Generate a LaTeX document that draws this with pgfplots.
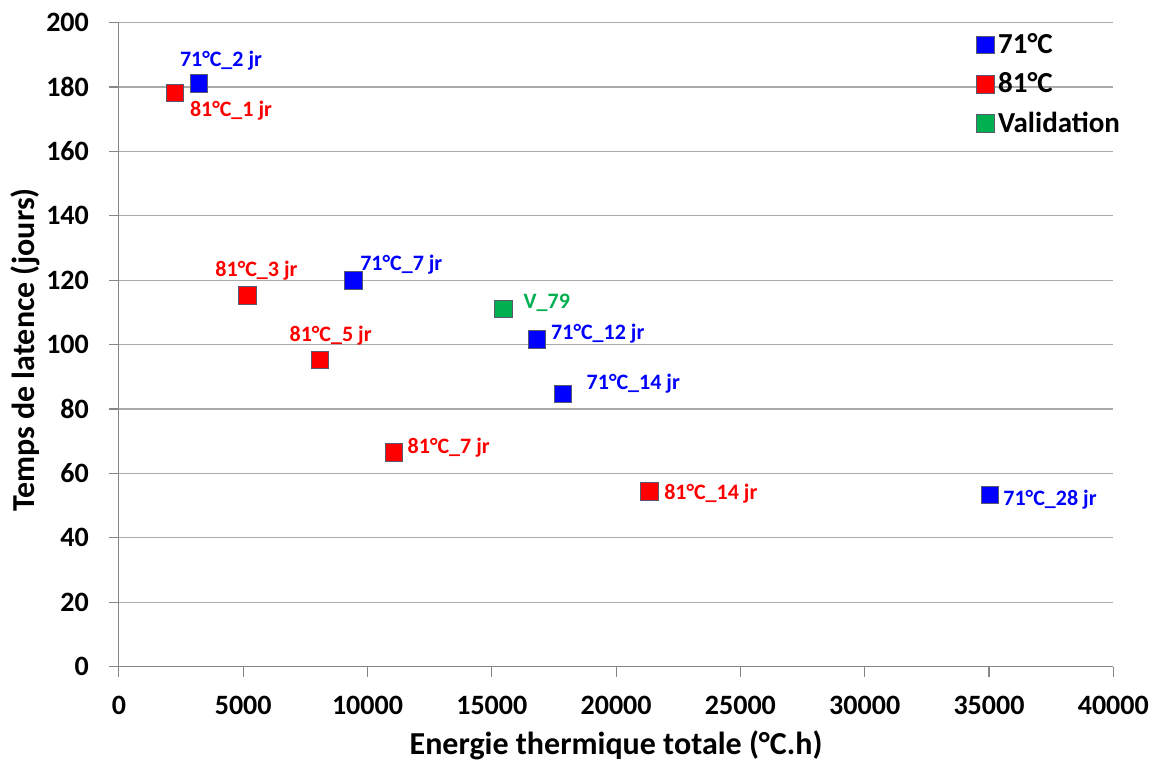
\documentclass[border=0pt]{standalone}
\usepackage{fontspec}
\setmainfont{Carlito}
\usepackage{pgfplots}
\pgfplotsset{compat=1.18}
\usepackage{pgfplotstable}
\definecolor{bluem}{RGB}{0,0,255}
\definecolor{redm}{RGB}{255,0,0}
\definecolor{greenm}{RGB}{0,176,80}
\definecolor{gridc}{RGB}{170,170,170}
\definecolor{axc}{RGB}{134,134,134}
\definecolor{mborder}{RGB}{90,90,110}

\pgfplotstableread{
x y
3222 181.2
9430 119.9
16810 101.6
17860 84.7
35040 53.3
}\tblue

\pgfplotstableread{
x y
2257 178.1
5180 115.3
8090 95.2
11070 66.4
21340 54.4
}\tred

\pgfplotstableread{
x y
15460 111.0
}\tgreen

\pgfplotsset{
  lb/.style={forget plot, only marks, mark=none,
    every node near coord/.append style={anchor=center, inner sep=0pt,
      font=\bfseries\fontsize{11}{13}\selectfont}},
}

\begin{document}
\begin{tikzpicture}
\begin{axis}[
  name=ax,
  scale only axis,
  width=497.2pt, height=321.9pt,
  xmin=0, xmax=40000, ymin=0, ymax=200,
  xtick={0,5000,...,40000}, ytick={0,20,...,200},
  scaled x ticks=false,
  axis lines=left,
  axis line style={draw=axc, line width=0.6pt, -},
  tick align=outside,
  major tick length=5pt,
  tick style={draw=axc, line width=0.6pt},
  ymajorgrids,
  grid style={draw=gridc, line width=0.6pt},
  /pgf/number format/assume math mode=true,
  /pgf/number format/set thousands separator={},
  ticklabel style={font=\bfseries\fontsize{14}{16}\selectfont},
  yticklabel style={xshift=-6.5pt},
  xticklabel style={yshift=-6.5pt},
  xlabel={Energie thermique totale (°C.h)},
  ylabel={Temps de latence (jours)},
  label style={font=\bfseries\fontsize{16}{19}\selectfont},
  xlabel style={at={(axis description cs:0.5,-0.1219)}, anchor=center},
  ylabel style={at={(axis description cs:-0.0945,0.4916)}, anchor=center},
  clip=false,
  legend style={draw=none, fill=none, at={(axis description cs:0.856,0.996)}, anchor=north west,
    font=\bfseries\fontsize{14.5}{17}\selectfont, row sep=4pt},
  legend cell align=left,
]
\addplot[only marks, mark=square*, mark size=4.4pt, mark options={fill=bluem, draw=mborder, line width=0.5pt}]
  table[x=x, y=y]{\tblue};
\addlegendentry{71°C}
\addplot[only marks, mark=square*, mark size=4.4pt, mark options={fill=redm, draw=mborder, line width=0.5pt}]
  table[x=x, y=y]{\tred};
\addlegendentry{81°C}
\addplot[only marks, mark=square*, mark size=4.4pt, mark options={fill=greenm, draw=mborder, line width=0.5pt}]
  table[x=x, y=y]{\tgreen};
\addlegendentry{Validation}

% data labels (blue)
\addplot[lb, nodes near coords={71°C\_2 jr}, every node near coord/.append style={text=bluem, xshift=11pt, yshift=11.5pt}] coordinates {(3222,181.2)};
\addplot[lb, nodes near coords={71°C\_7 jr}, every node near coord/.append style={text=bluem, xshift=24pt, yshift=7.8pt}] coordinates {(9430,119.9)};
\addplot[lb, nodes near coords={71°C\_12 jr}, every node near coord/.append style={text=bluem, xshift=30.5pt, yshift=3pt}] coordinates {(16810,101.6)};
\addplot[lb, nodes near coords={71°C\_14 jr}, every node near coord/.append style={text=bluem, xshift=35.2pt, yshift=5pt}] coordinates {(17860,84.7)};
\addplot[lb, nodes near coords={71°C\_28 jr}, every node near coord/.append style={text=bluem, xshift=30pt, yshift=-2.5pt}] coordinates {(35040,53.3)};
% data labels (red)
\addplot[lb, nodes near coords={81°C\_1 jr}, every node near coord/.append style={text=redm, xshift=28pt, yshift=-8.5pt}] coordinates {(2257,178.1)};
\addplot[lb, nodes near coords={81°C\_3 jr}, every node near coord/.append style={text=redm, xshift=4.4pt, yshift=12.3pt}] coordinates {(5180,115.3)};
\addplot[lb, nodes near coords={81°C\_5 jr}, every node near coord/.append style={text=redm, xshift=5.3pt, yshift=12.2pt}] coordinates {(8090,95.2)};
\addplot[lb, nodes near coords={81°C\_7 jr}, every node near coord/.append style={text=redm, xshift=27.3pt, yshift=2.7pt}] coordinates {(11070,66.4)};
\addplot[lb, nodes near coords={81°C\_14 jr}, every node near coord/.append style={text=redm, xshift=30.7pt, yshift=-1pt}] coordinates {(21340,54.4)};
% data label (green)
\addplot[lb, nodes near coords={V\_79}, every node near coord/.append style={text=greenm, xshift=21.8pt, yshift=3pt}] coordinates {(15460,111.0)};
\end{axis}
\pgfresetboundingbox
\path ([shift={(-59.45pt,-47.25pt)}]ax.south west) rectangle ([shift={(19.85pt,11.35pt)}]ax.north east);
\end{tikzpicture}
\end{document}
